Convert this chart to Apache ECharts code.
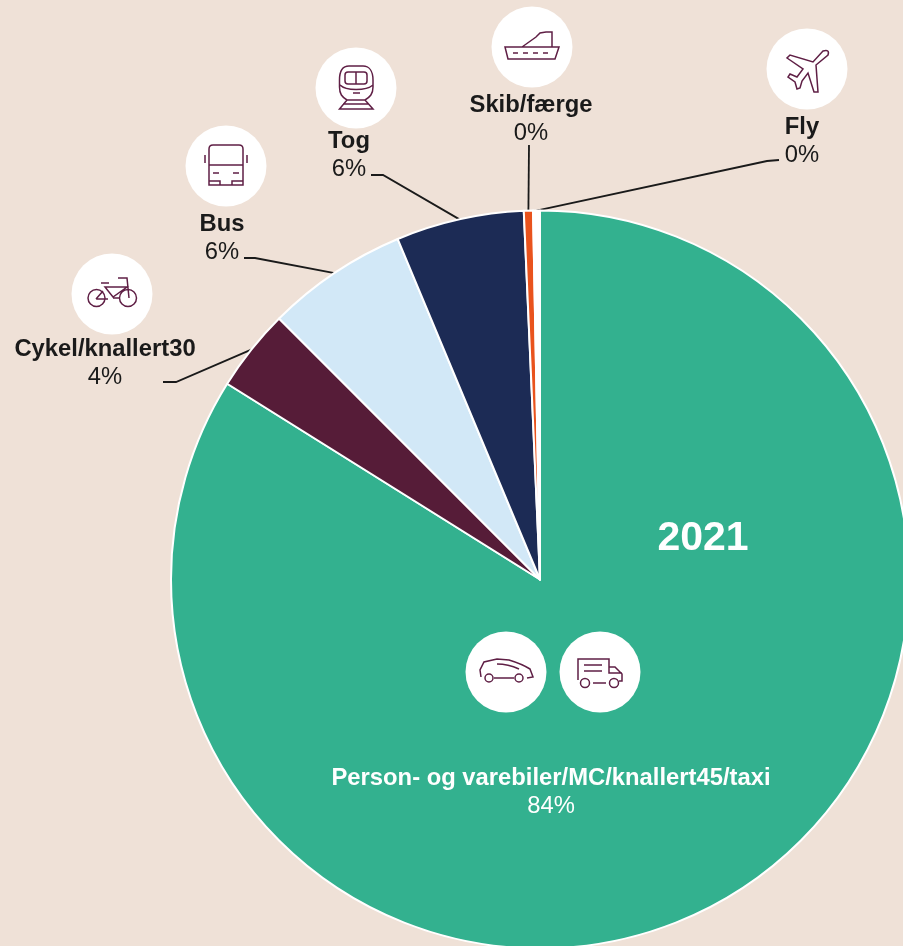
<!DOCTYPE html>
<html><head><meta charset="utf-8">
<script src="https://cdn.jsdelivr.net/npm/echarts@6/dist/echarts.min.js"></script>
<style>html,body{margin:0;padding:0;background:#EFE1D7}#c{width:903px;height:946px}</style>
</head><body><div id="c"></div>
<script>
const categories = ['Person- og varebiler/MC/knallert45/taxi','Cykel/knallert30','Bus','Tog','Skib/færge','Fly'];
const shares = [83.9, 3.6, 6.2, 5.6, 0.4, 0.3];
const sliceColors = ['#33B18F','#561C38','#D2E8F7','#1C2B55','#E9531D','#FFFFFF'];
const yearLabel = '2021';

const labelAnchors = [[551,792],[105,363],[222,238.5],[349,155.5],[531,119.5],[802,141]];
const leaderPoints = [null,[[176,382],[163,382]],[[255,258],[244,258]],[[383,175],[371,175]],[[529,145]],[[767,161],[779,160]]];

const bbox = 'M-30,-30L-30,-30M30,30L30,30';
const circ = (x,y,r)=>`M${x-r},${y}A${r},${r},0,1,1,${x+r},${y}A${r},${r},0,1,1,${x-r},${y}Z`;
const icons = [
 {x:356,y:88,d:'M-9,12C-14,9 -16.5,6 -16.5,-1L-16.5,-8C-16.5,-17 -13,-22 -7,-22L7,-22C13,-22 17,-17 17,-8L17,-1C17,6 14,9 9,12ZM-8,-16L8,-16C10,-16 11,-15 11,-13L11,-7C11,-5 10,-4 8,-4L-8,-4C-10,-4 -11,-5 -11,-7L-11,-13C-11,-15 -10,-16 -8,-16ZM0,-16L0,-4M-16,-3C-10,3 10,3 17,-3M-3,5L4,5M-9,12L-16.5,21L17,21L9,12M-13,16L13,16'},
 {x:226,y:166,d:'M-17,19L-17,-17Q-17,-21 -13,-21L13,-21Q17,-21 17,-17L17,19ZM-17,-1L17,-1M-17,15L-6,15L-6,19M6,19L6,15L17,15M-21,-11L-21,-3M21,-11L21,-3M-13,7L-7,7M7,7L13,7'},
 {x:112,y:294,d:circ(-15.5,4,8.5)+circ(16,4,8.5)+'M-7,-7L15,-7L1,3ZM-16,5L-9,-3M-16,5L-4,5M1,4L7,4M6,-16L15,-16L17,4M-11,-11L-3,-11'},
 {x:532,y:47,d:'M-27,0L27,0L23,12L-24,12ZM-10,0L4,-10L8,-14L14,-15L20,-15L20,0M-19,6L-14,6M-9,6L-4,6M1,6L6,6M11,6L16,6'},
 {x:807,y:69,d:'M16,-18L6,-7L-17,-14L-20,-11L-4,0L-10,8L-17,5L-19,8L-12,13L-10,20L-7,19L-5,12L1,4L7,23L11,23L9,-4L21,-14Q23,-20 16,-18Z'},
 {x:506,y:672,d:circ(-17,6,4)+circ(13,6,4)+'M-25,5L-26,-2L-22,-10L-9,-13L3,-12Q16,-8 24,-3L27,5L21,6M-12,6L8,6M-9,-8Q2,-8 13,-3'},
 {x:600,y:672,d:circ(-15,11,4.5)+circ(14,11,4.5)+'M-22,8L-22,-13L9,-13L9,1L22,1M9,-5L15,-5L22,2L22,9L19,9M-7,11L6,11M-16,-7L2,-7M-16,-1L2,-1'}
];

const chart = echarts.init(document.getElementById('c'), null, {renderer:'canvas'});
chart.setOption({
  backgroundColor:'#EFE1D7',
  animation:false,
  series:[{
    type:'pie',
    center:[540,579.5],
    radius:369,
    startAngle:90,
    clockwise:true,
    avoidLabelOverlap:false,
    silent:true,
    data:categories.map((name,i)=>({
      name, value:shares[i],
      itemStyle:{color:sliceColors[i]},
      labelLine:{show:i>0},
      label:i===0?{rich:{n:{color:'#fff'},v:{color:'#fff'}}}:{}
    })),
    itemStyle:{borderColor:'#fff',borderWidth:2},
    label:{
      show:true,
      position:'outside',
      formatter:p=>`{n|${p.name}}\n{v|${Math.round(p.value)}%}`,
      align:'center',
      rich:{
        n:{fontFamily:'Liberation Sans',fontWeight:'bold',fontSize:23.8,lineHeight:28,color:'#1a1a1a',align:'center'},
        v:{fontFamily:'Liberation Sans',fontSize:23.8,lineHeight:28,color:'#1a1a1a',align:'center'}
      }
    },
    labelLine:{show:true,length:10,length2:10,lineStyle:{color:'#1a1a1a',width:1.8}},
    labelLayout:function(p){
      const a=labelAnchors[p.dataIndex], out={x:a[0],y:a[1],align:'center',verticalAlign:'middle'};
      if(leaderPoints[p.dataIndex]&&p.labelLinePoints){
        out.labelLinePoints=[p.labelLinePoints[0]].concat(leaderPoints[p.dataIndex]);
      }
      return out;
    }
  },{
    type:'custom',
    coordinateSystem:'none',
    silent:true,
    z:5,
    data:icons.map((_,i)=>i),
    renderItem:function(params,api){
      const ic=icons[api.value(0)];
      return {type:'group',x:ic.x,y:ic.y,children:[
        {type:'circle',shape:{cx:0,cy:0,r:40.5},style:{fill:'#fff'}},
        {type:'path',shape:{pathData:bbox+ic.d,x:-30,y:-30,width:60,height:60,layout:'cover'},
         style:{fill:null,stroke:'#5F1F45',lineWidth:1.5}}
      ]};
    }
  }],
  graphic:[{type:'text',x:703,y:539,z:10,style:{text:yearLabel,fill:'#fff',font:'bold 41px "Liberation Sans"',textAlign:'center',textVerticalAlign:'middle'}}]
});
</script></body></html>
